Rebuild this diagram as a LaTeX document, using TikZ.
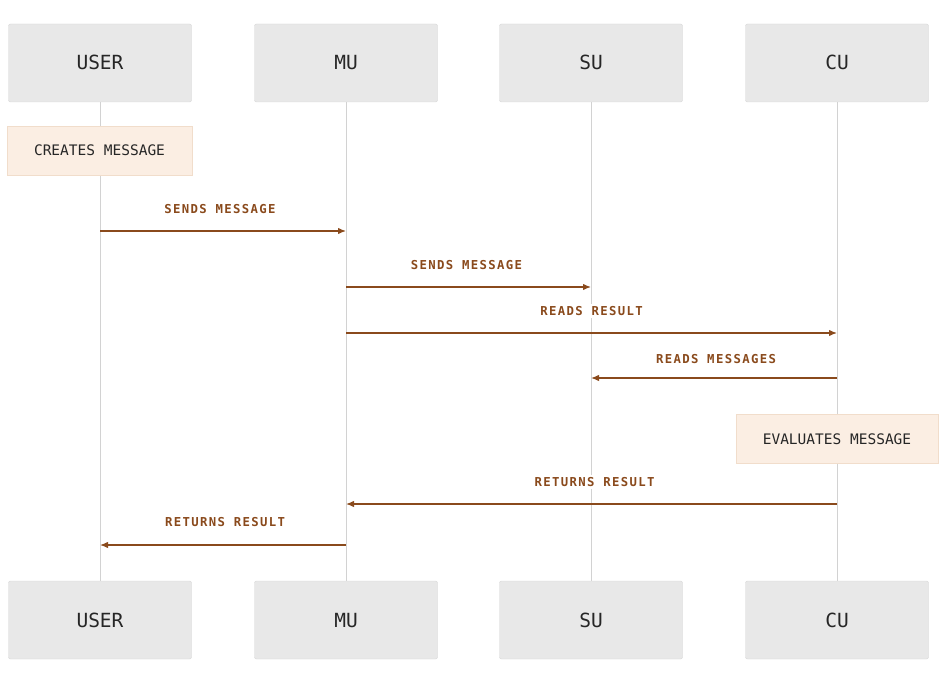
\documentclass[tikz,border=0pt]{standalone}
\usepackage{fontspec}
\setmonofont{DejaVu Sans Mono}
\newfontfamily\lblfont[LetterSpace=11]{DejaVu Sans Mono}
\usetikzlibrary{arrows.meta}

\definecolor{boxgray}{HTML}{E8E8E8}
\definecolor{boxline}{HTML}{D6D6D6}
\definecolor{notefill}{HTML}{FBEEE3}
\definecolor{noteline}{HTML}{F1DDCB}
\definecolor{lifegray}{HTML}{D2D2D2}
\definecolor{msgbrown}{HTML}{8A4A1C}

\tikzset{
    actor/.style={draw=boxline, fill=boxgray, rounded corners=2pt, minimum width=183pt, minimum height=78pt, text height=14pt, text depth=0pt, font=\ttfamily\fontsize{19.5}{22}\selectfont, text=black!85},
    note/.style={draw=noteline, fill=notefill, minimum height=49pt, font=\ttfamily\fontsize{14.5}{17}\selectfont, text=black!85},
    msg/.style={draw=msgbrown, line width=1.3pt, -{Latex[length=8pt,width=6.5pt]}},
    msglabel/.style={font=\lblfont\bfseries\fontsize{12.3}{14}\selectfont, text=msgbrown, fill=white, inner sep=2pt, yshift=22pt}
}

\begin{document}
\begin{tikzpicture}[x=1pt, y=-1pt]
    \useasboundingbox (0,0) rectangle (940,676);
    % Actor boxes at the top and the bottom, with their lifelines
    \foreach \name/\x/\txt in {user/100/USER, mu/346/MU, su/591/SU, cu/837/CU} {
        \draw[lifegray, line width=0.8pt] (\x,102) -- (\x,581);
        \node[actor] (\name-top) at (\x,63) {\txt};
        \node[actor] (\name-bot) at (\x,620) {\txt};
    }
    % Points on the lifelines where the messages start and end
    \foreach \name/\x in {user/100, mu/346, su/591, cu/837} {
        \foreach \i/\y in {1/231, 2/287, 3/333, 4/378, 5/504, 6/545} {
            \coordinate (\name-\i) at (\x,\y);
        }
    }
    % Notes on the lifelines
    \node[note, minimum width=185pt] (create) at (99.5,150.5) {CREATES MESSAGE};
    \node[note, minimum width=202pt] (evaluate) at (837,439) {EVALUATES MESSAGE};
    % Messages
    \draw[msg] (user-1) -- node[msglabel, xshift=-3pt] {SENDS MESSAGE} (mu-1);
    \draw[msg] (mu-2) -- node[msglabel, xshift=-2pt] {SENDS MESSAGE} (su-2);
    \draw[msg] (mu-3) -- node[msglabel] {READS RESULT} (cu-3);
    \draw[msg] (cu-4) -- node[msglabel, xshift=2pt, yshift=-3pt] {READS MESSAGES} (su-4);
    \draw[msg] (cu-5) -- node[msglabel, xshift=3pt] {RETURNS RESULT} (mu-5);
    \draw[msg] (mu-6) -- node[msglabel, xshift=2pt, yshift=1pt] {RETURNS RESULT} (user-6);
\end{tikzpicture}
\end{document}
